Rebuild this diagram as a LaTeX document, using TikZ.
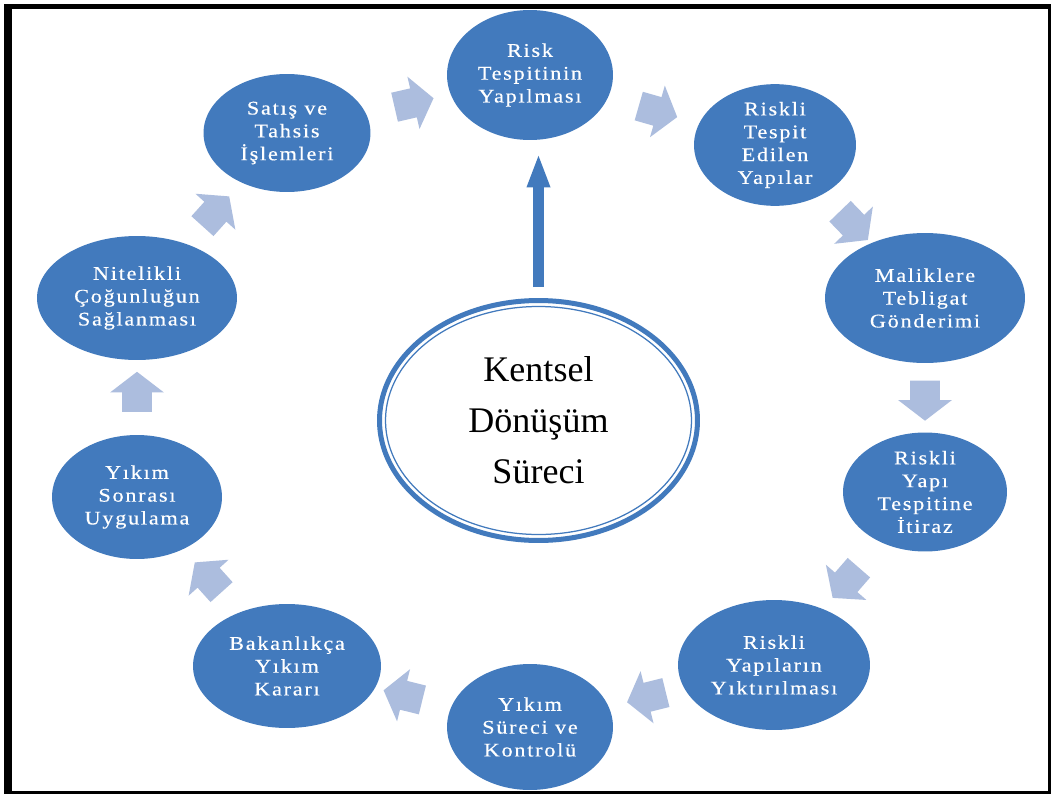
\documentclass[tikz,border=0pt]{standalone}
\usepackage{fontspec}
\setmainfont{Liberation Serif}
\newfontfamily\etapefont[FakeStretch=1.15,LetterSpace=9,FakeBold=0.4]{Liberation Serif}
\usepackage{tikz}
\usetikzlibrary{positioning}
\usetikzlibrary{calc}
\usetikzlibrary{shapes.geometric}
\usetikzlibrary{shapes.arrows}
\usetikzlibrary{arrows.meta}
\definecolor{bleu}{RGB}{66,122,189}
\definecolor{bleuclair}{RGB}{172,189,222}

\begin{document}
\begin{tikzpicture}[x=0.02cm, y=-0.02cm,
  etape/.style={ellipse, fill=bleu, inner sep=0pt, align=center, text=white,
    font=\etapefont\fontsize{11}{13}\selectfont},
  fleche/.style={single arrow, fill=bleuclair, inner sep=0pt, inner ysep=0.29cm,
    minimum height=0.8cm, single arrow head extend=0.24cm, single arrow tip angle=105}]
  \useasboundingbox (0,0) rectangle (1051,794);

  % cadre
  \fill[black] (4,4) rectangle (1051,794);
  \fill[white] (12,9) rectangle (1048,791);

  % etapes du cycle
  \node[etape, minimum width=3.32cm, minimum height=2.6cm]  (risk)      at (530,75)  {Risk\\Tespitinin\\Yapılması};
  \node[etape, minimum width=3.24cm, minimum height=2.24cm] (tespit)    at (775,145) {Riskli\\Tespit\\Edilen\\Yapılar};
  \node[etape, minimum width=4cm,    minimum height=2.6cm]  (tebligat)  at (925,298) {Maliklere\\Tebligat\\Gönderimi};
  \node[etape, minimum width=3.28cm, minimum height=2.38cm] (itiraz)    at (925,492) {Riskli\\Yapı\\Tespitine\\İtiraz};
  \node[etape, minimum width=3.84cm, minimum height=2.6cm]  (yiktir)    at (774,665) {Riskli\\Yapıların\\Yıktırılması};
  \node[etape, minimum width=3.32cm, minimum height=2.52cm] (surec)     at (530,727) {Yıkım\\Süreci ve\\Kontrolü};
  \node[etape, minimum width=3.76cm, minimum height=2.48cm] (bakanlik)  at (287,666) {Bakanlıkça\\Yıkım\\Kararı};
  \node[etape, minimum width=3.4cm,  minimum height=2.48cm] (sonrasi)   at (137,497) {Yıkım\\Sonrası\\Uygulama};
  \node[etape, minimum width=4cm,    minimum height=2.48cm] (nitelikli) at (137,298) {Nitelikli\\Çoğunluğun\\Sağlanması};
  \node[etape, minimum width=3.34cm, minimum height=2.36cm] (satis)     at (287,133) {Satış ve\\Tahsis\\İşlemleri};

  % fleches entre les etapes
  \foreach \a/\b/\ang in {satis/risk/13, risk/tespit/-16, tespit/tebligat/-46,
      tebligat/itiraz/-90, itiraz/yiktir/-131, yiktir/surec/-166, surec/bakanlik/166,
      bakanlik/sonrasi/132, sonrasi/nitelikli/90, nitelikli/satis/48} {
    \node[fleche, rotate=\ang] (f-\a) at ($(\a)!0.5!(\b)$) {};
  }

  % centre
  \node[ellipse, draw=bleu, line width=0.1cm, fill=white, inner sep=0pt,
    minimum width=6.36cm, minimum height=4.8cm, align=center,
    font=\fontsize{20.5}{29}\selectfont] (coeur) at (538.5,420.5) {Kentsel\\Dönüşüm\\Süreci};
  \draw[bleu, line width=0.025cm] (coeur.center) ellipse [x radius=153, y radius=114];

  % grande fleche vers le haut
  \draw[bleu, line width=0.22cm, -{Triangle[width=0.42cm, length=0.68cm]},
    shorten <=0.22cm, shorten >=0.26cm] (coeur.north) -- (coeur.north |- risk.south);
\end{tikzpicture}
\end{document}
